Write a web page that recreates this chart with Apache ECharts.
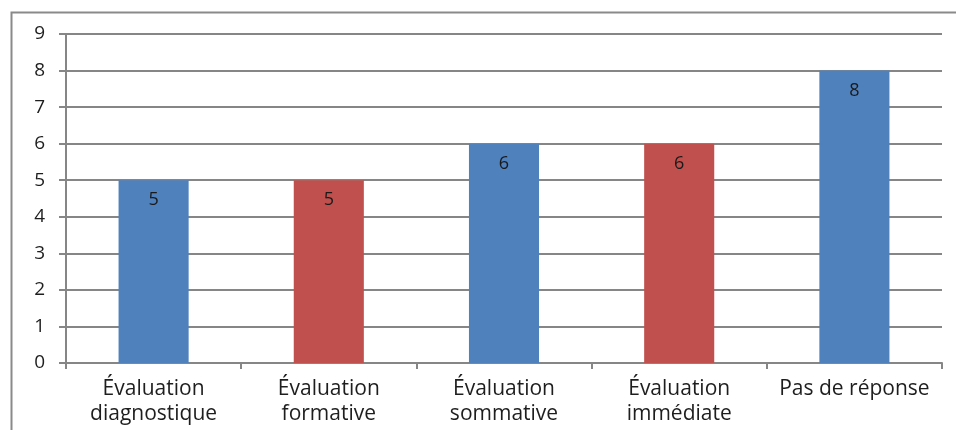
<!DOCTYPE html>
<html><head><meta charset="utf-8">
<script src="https://cdn.jsdelivr.net/npm/echarts@6/dist/echarts.min.js"></script>
<style>html,body{margin:0;padding:0;background:#fff}#c{width:956px;height:430px}</style>
</head><body><div id="c"></div>
<script>
const categories = ['Évaluation\ndiagnostique','Évaluation\nformative','Évaluation\nsommative','Évaluation\nimmédiate','Pas de réponse'];
const values = [5,5,6,6,8];
const barColors = ['#4F81BD','#C0504D','#4F81BD','#C0504D','#4F81BD'];
const yTicks = [0,1,2,3,4,5,6,7,8,9];

const FONT = 'Open Sans, Liberation Sans, sans-serif';
const chart = echarts.init(document.getElementById('c'), null, {renderer:'canvas'});
chart.setOption({
  animation:false,
  backgroundColor:'#fff',
  graphic:[{type:'rect',shape:{x:11.5,y:12.5,width:1200,height:600},style:{fill:'none',stroke:'#8a8a8a',lineWidth:2},silent:true}],
  grid:{left:66,right:14,top:34,bottom:67,containLabel:false},
  xAxis:{type:'category',data:categories,
    axisLine:{lineStyle:{color:'#868686',width:2}},
    axisTick:{show:true,length:6,alignWithLabel:false,lineStyle:{color:'#868686',width:2}},
    axisLabel:{color:'#1e1e1e',fontSize:21,fontFamily:FONT,lineHeight:25,margin:14,interval:0}},
  yAxis:{type:'value',min:0,max:9,interval:1,
    axisLine:{show:true,lineStyle:{color:'#868686',width:2}},
    axisTick:{show:true,length:7,lineStyle:{color:'#868686',width:2}},
    splitLine:{lineStyle:{color:'#868686',width:2}},
    axisLabel:{color:'#1e1e1e',fontSize:19,fontFamily:FONT,margin:21,
      formatter:v=>yTicks.includes(v)?String(v):''}},
  series:[{type:'bar',barWidth:'40%',
    data:values.map((v,i)=>({value:v,itemStyle:{color:barColors[i]}})),
    label:{show:true,position:'insideTop',distance:11,color:'#1a1a1a',fontSize:18,fontFamily:FONT}}]
});
</script></body></html>
